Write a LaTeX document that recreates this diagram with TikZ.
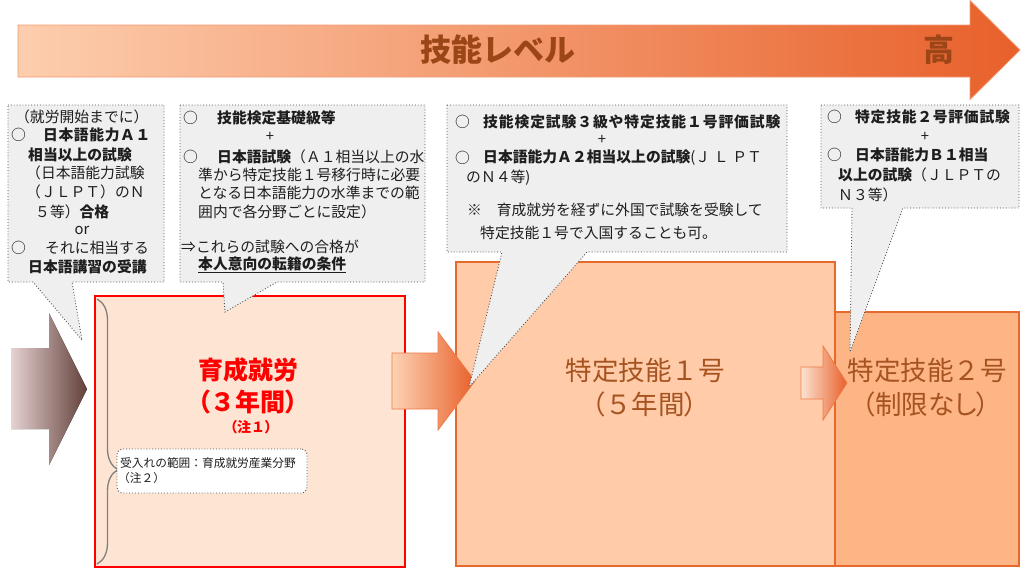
\documentclass[tikz,border=0pt]{standalone}
\usepackage{fontspec}
\setmainfont{Noto Sans CJK JP}
\newfontfamily\jpp[RawFeature=+palt]{Noto Sans CJK JP}
\usetikzlibrary{decorations.pathreplacing}
\definecolor{calfill}{HTML}{EFEFEF}
\definecolor{calline}{HTML}{505050}
\definecolor{txt}{HTML}{1E1E1E}
\definecolor{redbox}{HTML}{FF0000}
\definecolor{redfill}{HTML}{FDE4D3}
\definecolor{orline}{HTML}{E8692D}
\definecolor{bonefill}{HTML}{FFCBA8}
\definecolor{btwofill}{HTML}{FDB586}
\definecolor{lbl}{HTML}{A65320}
\definecolor{lvl}{HTML}{9C4517}
\definecolor{topL}{HTML}{FDCEAE}
\definecolor{topR}{HTML}{E8602A}
\definecolor{topline}{HTML}{F19A72}
\definecolor{arrL}{HTML}{FDD3B4}
\definecolor{arrR}{HTML}{E8602A}
\definecolor{arrW}{HTML}{FCE3D2}
\definecolor{arrline}{HTML}{EE7A45}
\definecolor{lftL}{HTML}{E6D2D2}
\definecolor{lftR}{HTML}{62403A}
\definecolor{bracegray}{HTML}{808080}
\newcommand{\pl}[1]{{\jpp #1}}
\begin{document}
\begin{tikzpicture}[x=1pt,y=-1pt,
  callout/.style={fill=calfill, draw=calline, dotted, line width=0.9pt},
  cl/.style={inner sep=0pt, anchor=west, text=txt, font=\fontsize{14.8}{17}\selectfont},
  cc/.style={inner sep=0pt, anchor=center, text=txt, font=\fontsize{14.8}{17}\selectfont},
  bigbox/.style={inner sep=0pt, outer sep=0pt, anchor=north west},
]
\useasboundingbox (0,0) rectangle (1024,574);

% top level arrow
\path[left color=topL, right color=topR, draw=topline, line width=0.8pt]
  (18,25) -- (970,25) -- (970,0.5) -- (1020,50) -- (970,99.5) -- (970,77) -- (18,77) -- cycle;
\node[font=\bfseries\fontsize{31}{36}\selectfont, text=lvl, inner sep=0pt] (lvltext) at (498,50) {技能レベル};
\node[font=\bfseries\fontsize{31}{36}\selectfont, text=lvl, inner sep=0pt] (hightext) at (939,50) {高};

% main boxes
\node[bigbox, fill=bonefill, draw=orline, line width=2.2pt, minimum width=379pt, minimum height=304pt] (tokone) at (456,262) {};
\node[bigbox, fill=btwofill, draw=orline, line width=2.2pt, minimum width=184pt, minimum height=254pt] (toktwo) at (835,312) {};
\node[bigbox, fill=redfill, draw=redbox, line width=2.6pt, minimum width=310pt, minimum height=271pt] (ikusei) at (95,296) {};

% block arrows
\fill[left color=lftL, right color=lftR]
  (11,348) -- (49,348) -- (49,313) -- (87,389) -- (49,465) -- (49,429) -- (11,429) -- cycle;
\path[left color=arrL, right color=arrR, draw=arrline, line width=0.8pt]
  (392,353) -- (438,353) -- (438,332) -- (475,381) -- (438,430) -- (438,409) -- (392,409) -- cycle;
\path[left color=arrW, right color=arrR, draw=arrline, line width=0.8pt]
  (801,367) -- (823,367) -- (823,346) -- (847,383) -- (823,420) -- (823,399) -- (801,399) -- cycle;

% brace and scope box
\draw[bracegray, line width=1.3pt, decorate, decoration={brace, amplitude=21pt, aspect=0.644}]
  (97,299) -- (97,564);
\node[bigbox, fill=white, draw=calline, dotted, line width=0.9pt, rounded corners=6pt, minimum width=190pt, minimum height=44pt] (range) at (117,449) {};
\node[inner sep=0pt, anchor=west, text=txt, font=\fontsize{11.7}{14}\selectfont] (rangea) at (120,463) {受入れの範囲：育成就労産業分野};
\node[inner sep=0pt, anchor=west, text=txt, font=\fontsize{11.7}{14}\selectfont] (rangeb) at (118,478) {（注２）};

% labels in boxes
\node[inner sep=0pt, text=redbox, font=\bfseries\fontsize{25}{30}\selectfont] (ika) at (248,370) {育成就労};
\node[inner sep=0pt, text=redbox, font=\bfseries\fontsize{25}{30}\selectfont] (ikb) at (248,402) {\pl{（}３年間\pl{）}};
\node[inner sep=0pt, text=redbox, font=\bfseries\fontsize{14}{17}\selectfont] (ikc) at (251,427) {\pl{（}注１\pl{）}};
\node[inner sep=0pt, text=lbl, font=\fontsize{26.5}{30}\selectfont] (toa) at (645,370) {特定技能１号};
\node[inner sep=0pt, text=lbl, font=\fontsize{26.5}{30}\selectfont] (tob) at (645,404) {\pl{（}５年間\pl{）}};
\node[inner sep=0pt, text=lbl, font=\fontsize{26.5}{30}\selectfont] (tta) at (927,370) {特定技能２号};
\node[inner sep=0pt, text=lbl, font=\jpp\fontsize{26.5}{30}\selectfont] (ttb) at (926,404) {（制限なし）};

% callout shapes
\draw[callout] (8,105) -- (164,105) -- (164,282) -- (72,282) -- (82,340) -- (33,282) -- (8,282) -- cycle;
\draw[callout] (180,105) -- (425,105) -- (425,282) -- (277,282) -- (225,312) -- (223,282) -- (180,282) -- cycle;
\draw[callout] (447,105) -- (787,105) -- (787,252) -- (587,252) -- (469,387) -- (502,252) -- (447,252) -- cycle;
\draw[callout] (821,105) -- (1019,105) -- (1019,208) -- (903,208) -- (850,352) -- (852,208) -- (821,208) -- cycle;

% callout 1 text
\node[cl] (ca) at (15,117) {（就労開始までに）};
\node[cl] (cb) at (11,135) {○};
\node[cl] (cbb) at (43,135) {\bfseries\addfontfeature{LetterSpace=4} 日本語能力Ａ１};
\node[cl] (cc) at (28,155) {\bfseries 相当以上の試験};
\node[cl] (cd) at (26,173) {（日本語能力試験};
\node[cl] (ce) at (26,192) {（ＪＬＰＴ）のＮ};
\node[cl] (cf) at (35,212) {５等）{\bfseries 合格}};
\node[cc] (cg) at (82,230) {or};
\node[cl] (ch) at (11,248) {○};
\node[cl] (chh) at (45,248) {それに相当する};
\node[cl] (ci) at (28,267) {\bfseries 日本語講習の受講};

% callout 2 text
\node[cl] (da) at (183,118) {○};
\node[cl] (daa) at (217,118) {\bfseries 技能検定基礎級等};
\node[cc] (db) at (270,137) {+};
\node[cl] (dc) at (183,157) {○};
\node[cl] (dcc) at (217,157) {{\bfseries 日本語試験}（Ａ１相当以上の水};
\node[cl] (dd) at (198,175) {準から特定技能１号移行時に必要};
\node[cl] (de) at (198,193) {となる日本語能力の水準までの範};
\node[cl] (df) at (198,212) {囲内で各分野ごとに設定）};
\node[cl] (dg) at (181,247) {⇒これらの試験への合格が};
\node[cl] (dh) at (198,265) {\bfseries\underline{本人意向の転籍の条件}};

% callout 3 text
\node[cl] (ea) at (455,122) {○};
\node[cl] (eaa) at (483,122) {\bfseries\addfontfeature{LetterSpace=6} 技能検定試験３級や特定技能１号評価試験};
\node[cc] (eb) at (602,140) {+};
\node[cl] (ec) at (455,158) {○};
\node[cl] (ecc) at (483,158) {{\bfseries 日本語能力Ａ２相当以上の試験}({\addfontfeature{LetterSpace=25}ＪＬＰ}Ｔ};
\node[cl] (ed) at (466,178) {のＮ４等)};
\node[cl] (ee) at (467,210) {※　育成就労を経ずに外国で試験を受験して};
\node[cl] (ef) at (480,233) {特定技能１号で入国することも可。};

% callout 4 text
\node[cl] (fa) at (827,117) {○};
\node[cl] (faa) at (855,117) {\bfseries\addfontfeature{LetterSpace=5} 特定技能２号評価試験};
\node[cc] (fb) at (925,137) {+};
\node[cl] (fc) at (827,155) {○};
\node[cl] (fcc) at (855,155) {\bfseries 日本語能力Ｂ１相当};
\node[cl] (fd) at (838,175) {{\bfseries 以上の試験}（ＪＬＰＴの};
\node[cl] (fe) at (838,195) {Ｎ３等）};
\end{tikzpicture}
\end{document}
